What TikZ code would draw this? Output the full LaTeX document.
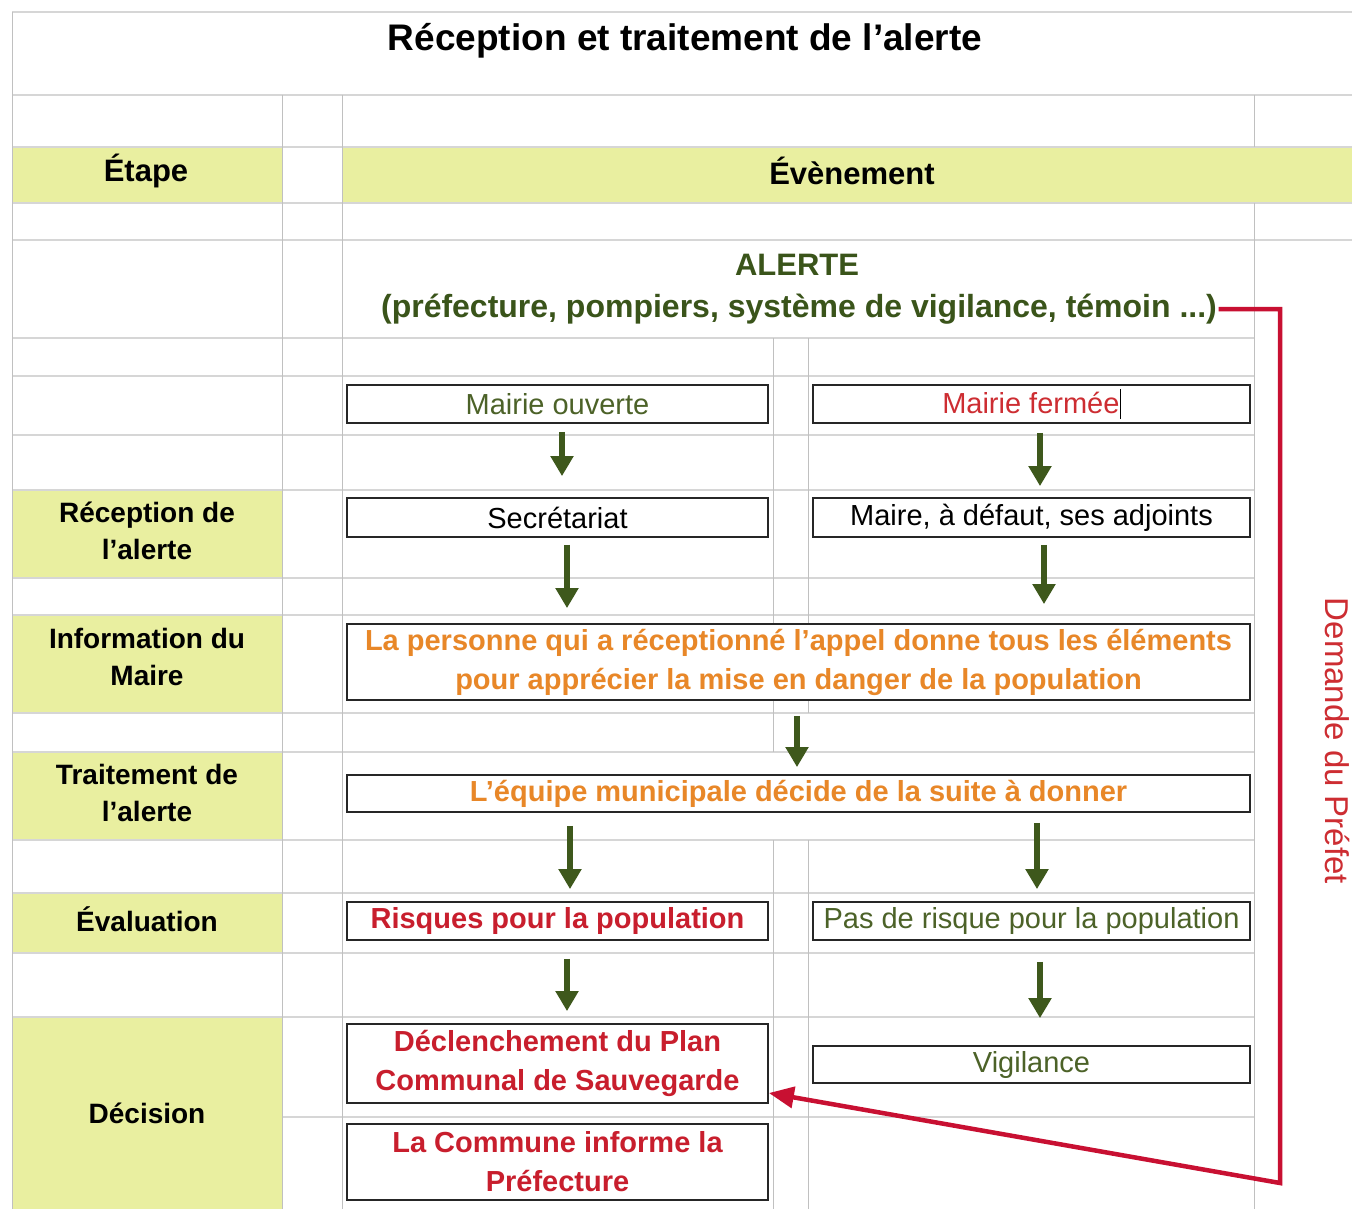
\documentclass[tikz,border=0pt]{standalone}
\usepackage{fontspec}
\setmainfont{Liberation Sans}
\usetikzlibrary{arrows.meta}
\definecolor{band}{RGB}{233,239,160}
\definecolor{gridh}{RGB}{214,214,214}
\definecolor{gridv}{RGB}{192,192,192}
\definecolor{olive}{RGB}{62,88,28}
\definecolor{oltext}{RGB}{76,98,40}
\definecolor{alertc}{RGB}{58,84,26}
\definecolor{orng}{RGB}{232,135,40}
\definecolor{rouge}{RGB}{200,30,45}
\definecolor{rougeclair}{RGB}{205,45,50}
\definecolor{link}{RGB}{200,16,50}
\newcommand\fsz[2]{\fontsize{#1}{#2}\selectfont}

\begin{document}
\begin{tikzpicture}[x=1pt,y=-1pt,
  hgrid/.style={draw=gridh,line width=2pt},
  vgrid/.style={draw=gridv,line width=1pt},
  steplabel/.style={font=\fsz{28}{37}\bfseries, align=center, text=black, inner sep=0pt},
  evbox/.style={draw=black!85, line width=1.8pt, fill=white, inner sep=0pt, align=center},
  leftbox/.style={evbox, minimum width=421pt},
  rightbox/.style={evbox, minimum width=437pt},
  widebox/.style={evbox, minimum width=903pt},
  plain/.style={font=\fsz{29}{39}},
  strong/.style={font=\fsz{29}{39}\bfseries},
  flow/.style={draw=olive, line width=6.5pt, -{Triangle[width=22pt,length=20pt]}},
  prefect/.style={draw=link, line width=4.5pt, line join=miter, -{Triangle[width=21pt,length=25pt]}}
]
\useasboundingbox (0,0) rectangle (1352,1209);
\fill[white] (0,0) rectangle (1352,1209);

% coloured cells of the sheet
\fill[band] (12,147) rectangle (282,203);
\fill[band] (342,147) rectangle (1352,203);
\fill[band] (12,490) rectangle (282,578);
\fill[band] (12,615) rectangle (282,713);
\fill[band] (12,752) rectangle (282,840);
\fill[band] (12,893) rectangle (282,953);
\fill[band] (12,1017) rectangle (282,1209);

% horizontal grid lines
\foreach \yy in {12,95,147,203,240}
  \draw[hgrid] (12,\yy) -- (1352,\yy);
\foreach \yy in {338,376,435,490,578,615,713,752,840,893,953,1017}
  \draw[hgrid] (12,\yy) -- (1254,\yy);
\draw[hgrid] (282,1117) -- (1254,1117);

% vertical grid lines
\draw[vgrid] (12,12) -- (12,1209);
\foreach \xx in {282,342}
  \draw[vgrid] (\xx,95) -- (\xx,1209);
\draw[vgrid] (1254,95) -- (1254,147);
\draw[vgrid] (1254,203) -- (1254,1209);
\draw[vgrid] (773,338) -- (773,752);
\draw[vgrid] (808,338) -- (808,713);
\draw[vgrid] (773,840) -- (773,1209);
\draw[vgrid] (808,840) -- (808,1209);

% title and column headings
\node[font=\fsz{37}{42}\bfseries] (title) at (685,41) {Réception et traitement de l’alerte};
\node[font=\fsz{31}{36}\bfseries] (hstep) at (146,171) {Étape};
\node[font=\fsz{31}{36}\bfseries] (hevent) at (852,171) {Évènement};

% step labels
\node[steplabel] (s1) at (147,531) {Réception de\\l’alerte};
\node[steplabel] (s2) at (147,656.5) {Information du\\Maire};
\node[steplabel] (s3) at (147,793) {Traitement de\\l’alerte};
\node[steplabel] (s4) at (147,919) {Évaluation};
\node[steplabel] (s5) at (147,1113) {Décision};

% the alert
\node[font=\fsz{31}{36}\bfseries, text=alertc] (alerte) at (797,265) {ALERTE};
\node[font=\fsz{32}{36}\bfseries, text=alertc, inner sep=1.5pt] (sub) at (799,309)
  {(préfecture, pompiers, système de vigilance, témoin ...)};

% event boxes
\node[leftbox, minimum height=38pt, plain, text=oltext] (mo) at (557.5,404) {Mairie ouverte};
\node[rightbox, minimum height=38pt, plain, text=rougeclair] (mf) at (1031.5,404)
  {Mairie fermée\textcolor{black}{\rule[-0.2em]{1.2pt}{1.05em}}};
\node[leftbox, minimum height=39pt, plain] (sec) at (557.5,517.5) {Secrétariat};
\node[rightbox, minimum height=39pt, plain] (maire) at (1031.5,517.5) {Maire, à défaut, ses adjoints};
\node[widebox, minimum height=76pt, strong, text=orng] (pers) at (798.5,662)
  {La personne qui a réceptionné l’appel donne tous les éléments\\pour apprécier la mise en danger de la population};
\node[widebox, minimum height=37pt, strong, text=orng] (equipe) at (798.5,793.5)
  {L’équipe municipale décide de la suite à donner};
\node[leftbox, minimum height=38pt, strong, text=rouge] (risk) at (557.5,921) {Risques pour la population};
\node[rightbox, minimum height=38pt, plain, text=oltext] (norisk) at (1031.5,921) {Pas de risque pour la population};
\node[leftbox, minimum height=79pt, strong, text=rouge] (decl) at (557.5,1063.5)
  {Déclenchement du Plan\\Communal de Sauvegarde};
\node[rightbox, minimum height=37pt, plain, text=oltext] (vig) at (1031.5,1064.5) {Vigilance};
\node[leftbox, minimum height=76pt, strong, text=rouge] (comm) at (557.5,1162)
  {La Commune informe la\\Préfecture};

% flow arrows
\draw[flow, shorten <=8pt, shorten >=21pt] ([xshift=4.5pt]mo.south) -- ([xshift=4.5pt]sec.north);
\draw[flow, shorten <=9pt, shorten >=11pt] ([xshift=8.5pt]mf.south) -- ([xshift=8.5pt]maire.north);
\draw[flow, shorten <=7pt, shorten >=15pt] ([xshift=9.5pt]sec.south) -- ([xshift=9.5pt]sec.south |- pers.north);
\draw[flow, shorten <=7pt, shorten >=19pt] ([xshift=12.5pt]maire.south) -- ([xshift=12.5pt]maire.south |- pers.north);
\draw[flow, shorten <=15pt, shorten >=7pt] ([xshift=-1.5pt]pers.south) -- ([xshift=-1.5pt]equipe.north);
\draw[flow, shorten <=13pt, shorten >=12pt] ([xshift=12.5pt]risk.north |- equipe.south) -- ([xshift=12.5pt]risk.north);
\draw[flow, shorten <=10pt, shorten >=12pt] ([xshift=5.5pt]norisk.north |- equipe.south) -- ([xshift=5.5pt]norisk.north);
\draw[flow, shorten <=18pt, shorten >=12pt] ([xshift=9.5pt]risk.south) -- ([xshift=9.5pt]decl.north);
\draw[flow, shorten <=21pt, shorten >=27pt] ([xshift=8.5pt]norisk.south) -- ([xshift=8.5pt]vig.north);

% request from the prefect
\coordinate (bend) at (1280,1183);
\draw[prefect] (sub.east) -- (sub.east -| bend) -- (bend) -- ([yshift=-29.5pt]decl.east);
\node[rotate=-90, text=rougeclair, font=\fsz{33}{38}] (pref) at (1337,741) {Demande du Préfet};
\end{tikzpicture}
\end{document}
